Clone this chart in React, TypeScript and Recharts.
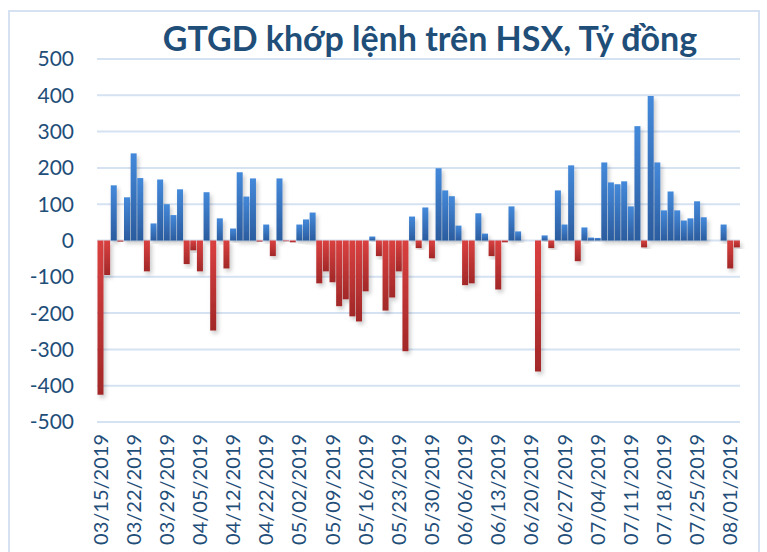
import React from 'react';
import { BarChart, Bar, XAxis, YAxis, CartesianGrid, Cell } from 'recharts';

const title = 'GTGD khớp lệnh trên HSX, Tỷ đồng';

const dates = [
  '03/15/2019', '03/18/2019', '03/19/2019', '03/20/2019', '03/21/2019', '03/22/2019',
  '03/25/2019', '03/26/2019', '03/27/2019', '03/28/2019', '03/29/2019',
  '04/01/2019', '04/02/2019', '04/03/2019', '04/04/2019', '04/05/2019',
  '04/08/2019', '04/09/2019', '04/10/2019', '04/11/2019', '04/12/2019',
  '04/16/2019', '04/17/2019', '04/18/2019', '04/19/2019', '04/22/2019',
  '04/23/2019', '04/24/2019', '04/25/2019', '04/26/2019', '05/02/2019',
  '05/03/2019', '05/06/2019', '05/07/2019', '05/08/2019', '05/09/2019',
  '05/10/2019', '05/13/2019', '05/14/2019', '05/15/2019', '05/16/2019',
  '05/17/2019', '05/20/2019', '05/21/2019', '05/22/2019', '05/23/2019',
  '05/24/2019', '05/27/2019', '05/28/2019', '05/29/2019', '05/30/2019',
  '05/31/2019', '06/03/2019', '06/04/2019', '06/05/2019', '06/06/2019',
  '06/07/2019', '06/10/2019', '06/11/2019', '06/12/2019', '06/13/2019',
  '06/14/2019', '06/17/2019', '06/18/2019', '06/19/2019', '06/20/2019',
  '06/21/2019', '06/24/2019', '06/25/2019', '06/26/2019', '06/27/2019',
  '06/28/2019', '07/01/2019', '07/02/2019', '07/03/2019', '07/04/2019',
  '07/05/2019', '07/08/2019', '07/09/2019', '07/10/2019', '07/11/2019',
  '07/12/2019', '07/15/2019', '07/16/2019', '07/17/2019', '07/18/2019',
  '07/19/2019', '07/22/2019', '07/23/2019', '07/24/2019', '07/25/2019',
  '07/26/2019', '07/29/2019', '07/30/2019', '07/31/2019', '08/01/2019',
  '08/02/2019',
];

const values = [
  -425, -95, 152, -3, 119, 240, 172, -85, 47, 168, 100,
  70, 141, -65, -27, -85, 133, -248, 61, -77, 33,
  188, 121, 171, -3, 44, -43, 171, -2, -5, 44,
  58, 77, -118, -85, -115, -181, -162, -209, -223, -140,
  11, -43, -193, -157, -85, -305, 66, -21, 91, -49,
  199, 138, 122, 41, -123, -118, 75, 19, -43, -135,
  -5, 94, 25, 0, 0, -361, 14, -21, 138, 44,
  207, -57, 36, 8, 7, 215, 160, 155, 163, 94,
  315, -19, 398, 215, 83, 135, 83, 55, 61, 108,
  64, 0, 0, 44, -77, -19,
];

const yTicks = [-500, -400, -300, -200, -100, 0, 100, 200, 300, 400, 500];

const data = dates.map((d, i) => ({ date: d, value: values[i] }));

const textColor = '#1F4E79';
const font = 'Lato, "Open Sans", sans-serif';

const XTick = (props: any) => {
  const { x, y, payload } = props;
  return (
    <text
      transform={`translate(${x},${y}) rotate(-90)`}
      textAnchor="end"
      dy="0.36em"
      fill={textColor}
      fontSize={20}
      fontFamily={font}
    >
      {payload.value}
    </text>
  );
};

export default function App() {
  return (
    <div style={{ position: 'absolute', left: 0, top: 0, width: 767, height: 552, overflow: 'hidden', background: '#fff' }}>
      <div
        style={{
          position: 'absolute',
          left: 8,
          top: 10,
          width: 752,
          height: 560,
          border: '2px solid #D6E2F2',
          boxSizing: 'border-box',
        }}
      />
      <div
        style={{
          position: 'absolute',
          left: 0,
          top: 18,
          width: 860,
          textAlign: 'center',
          fontFamily: font,
          fontWeight: 700,
          fontSize: 34,
          color: textColor,
          lineHeight: '40px',
          whiteSpace: 'nowrap',
        }}
      >
        {title}
      </div>
      <div style={{ position: 'absolute', left: 0, top: 0 }}>
        <BarChart
          width={767}
          height={552}
          data={data}
          margin={{ top: 59, right: 27, bottom: 0, left: 0 }}
          barCategoryGap={0.5}
        >
          <defs>
            <linearGradient id="gBlue" x1="0" y1="0" x2="0" y2="1">
              <stop offset="0%" stopColor="#4489DA" />
              <stop offset="100%" stopColor="#2B5C9F" />
            </linearGradient>
            <linearGradient id="gRed" x1="0" y1="0" x2="0" y2="1">
              <stop offset="0%" stopColor="#DA4040" />
              <stop offset="100%" stopColor="#A22828" />
            </linearGradient>
            <filter id="sh" x="-50%" y="-10%" width="250%" height="130%">
              <feDropShadow dx="2" dy="3" stdDeviation="2" floodColor="#000" floodOpacity="0.22" />
            </filter>
          </defs>
          <CartesianGrid vertical={false} stroke="#D5E2F2" strokeWidth={2} />
          <XAxis
            dataKey="date"
            height={130}
            interval={4}
            tickSize={0}
            tickMargin={12}
            axisLine={false}
            tickLine={false}
            tick={<XTick />}
          />
          <YAxis
            width={97}
            domain={[-500, 500]}
            ticks={yTicks}
            tickSize={0}
            tickMargin={23}
            axisLine={false}
            tickLine={false}
            tick={{ fill: textColor, fontSize: 21, fontFamily: font }}
            allowDataOverflow
          />
          <Bar dataKey="value" isAnimationActive={false}>
            {data.map((d, i) => (
              <Cell
                key={i}
                fill={d.value >= 0 ? 'url(#gBlue)' : 'url(#gRed)'}
                filter="url(#sh)"
              />
            ))}
          </Bar>
        </BarChart>
      </div>
    </div>
  );
}
